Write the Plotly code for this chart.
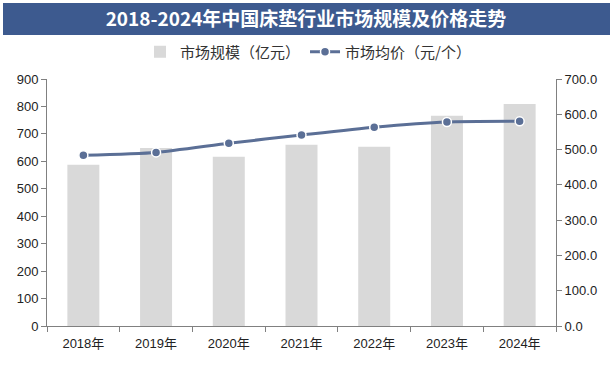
import plotly.graph_objects as go

years = ["2018年", "2019年", "2020年", "2021年", "2022年", "2023年", "2024年"]
market_size = [588, 649, 617, 660, 653, 766, 809]
avg_price = [484, 492, 518, 541, 563, 578, 580]

W, H = 613, 369
L, R, T, B = 47, 57, 79, 43
pw, ph = W - L - R, H - T - B

def px_x(x):
    return (x - L) / pw

def px_y(y):
    return (H - B - y) / ph

fig = go.Figure()
fig.add_trace(go.Bar(
    x=years, y=market_size, name="市场规模（亿元）",
    marker=dict(color="#d9d9d9", line=dict(width=0)), width=0.44,
))
fig.add_trace(go.Scatter(
    x=years, y=avg_price, name="市场均价（元/个）", yaxis="y2",
    mode="lines+markers",
    line=dict(color="#5b6f96", width=3, shape="spline", smoothing=0.6),
    marker=dict(size=9, color="#5b6f96", line=dict(color="white", width=1.5)),
))

fig.add_shape(type="rect", xref="paper", yref="paper",
              x0=px_x(3), x1=px_x(610), y0=px_y(35), y1=px_y(3),
              fillcolor="#3d5a8f", line=dict(width=0), layer="below")

fig.update_layout(
    width=W, height=H,
    margin=dict(l=L, r=R, t=T, b=B, pad=0),
    paper_bgcolor="white", plot_bgcolor="white",
    font=dict(family="Liberation Sans, Noto Sans CJK SC", size=12, color="#333333"),
    title=dict(text="<b>2018-2024年中国床垫行业市场规模及价格走势</b>",
               x=px_x(306), xref="paper", xanchor="center",
               y=1 - 19 / H, yanchor="middle",
               font=dict(family="Noto Sans CJK SC", size=19, color="white")),
    showlegend=True,
    legend=dict(orientation="h", x=px_x(308), xanchor="center", y=px_y(52), yanchor="middle",
                font=dict(family="Noto Sans CJK SC", size=15, color="#333333"),
                itemwidth=30, bgcolor="rgba(0,0,0,0)", traceorder="normal"),
    bargap=0.56,
    xaxis=dict(showline=True, linecolor="#808080", linewidth=1, ticks="outside",
               tickcolor="#808080", ticklen=5, tickson="boundaries", ticklabelstandoff=5,
               showgrid=False, tickfont=dict(family="Liberation Sans, Noto Sans CJK SC", size=13, color="#222")),
    yaxis=dict(range=[0, 900], dtick=100, showline=True, linecolor="#808080",
               ticks="outside", tickcolor="#808080", ticklen=5, showgrid=False,
               zeroline=False, tickfont=dict(size=13, color="#222")),
    yaxis2=dict(range=[0, 700], dtick=100, overlaying="y", side="right",
                showline=True, linecolor="#808080", ticks="outside", tickcolor="#808080",
                ticklen=5, showgrid=False, zeroline=False, tickformat=".1f",
                tickfont=dict(size=13, color="#222")),
)

fig.write_html("out.html", config={"displayModeBar": False},
               post_script="document.body.style.margin='0';document.body.style.padding='0';")
